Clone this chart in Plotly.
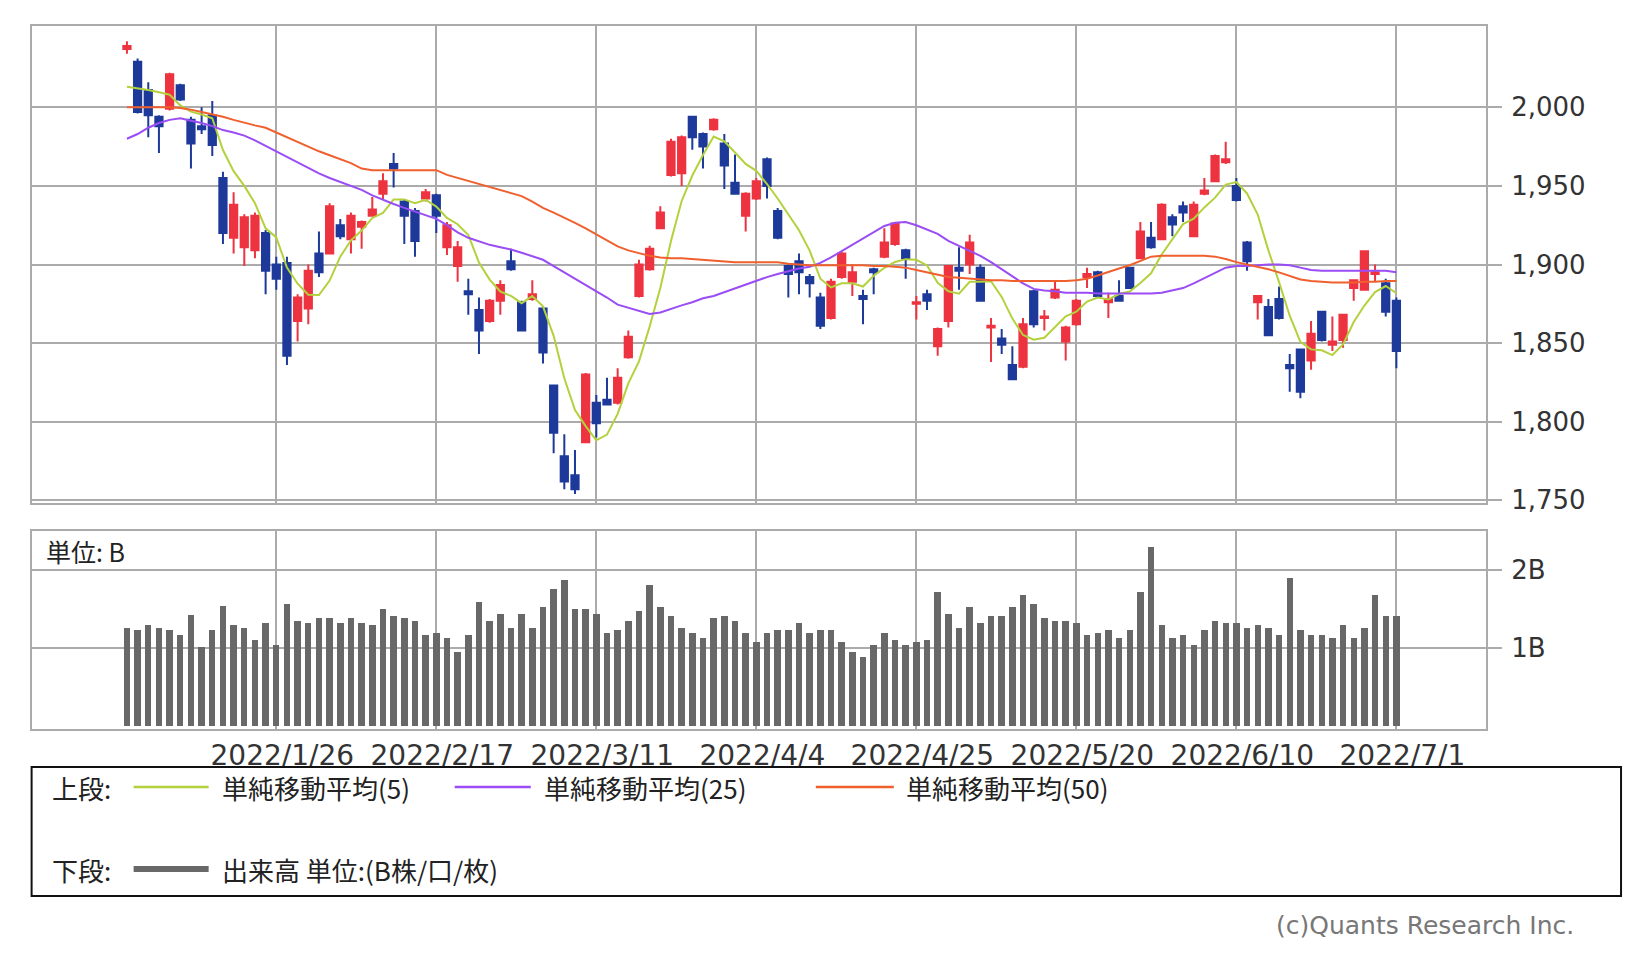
import plotly.graph_objects as go

# trading days shown (Jan 5 - Jul 1, 2022)
jan = [5, 6, 7, 11, 12, 13, 14, 17, 18, 19, 20, 21, 24, 25, 26, 27, 28, 31]
feb = [1, 2, 3, 4, 7, 8, 9, 10, 14, 15, 16, 17, 18, 21, 22, 24, 25, 28]
mar = [1, 2, 3, 4, 7, 8, 9, 10, 11, 14, 15, 16, 17, 18, 22, 23, 24, 25, 28, 29, 30, 31]
apr = [1, 4, 5, 6, 7, 8, 11, 12, 13, 14, 15, 18, 19, 20, 21, 22, 25, 26, 27, 28]
may = [2, 6, 9, 10, 11, 12, 13, 16, 17, 18, 19, 20, 23, 24, 25, 26, 27, 30, 31]
jun = [1, 2, 3, 6, 7, 8, 9, 10, 13, 14, 15, 16, 17, 20, 21, 22, 23, 24, 27, 28, 29, 30]
jul = [1]
dates = []
for m, days in zip(range(1, 8), [jan, feb, mar, apr, may, jun, jul]):
    dates += [f"2022/{m}/{d}" for d in days]

tick_dates = ["2022/1/26", "2022/2/17", "2022/3/11", "2022/4/4",
              "2022/4/25", "2022/5/20", "2022/6/10", "2022/7/1"]

open_ = [2037, 2029, 2011, 1994, 1999, 2014, 1992, 1988, 1995, 1955,
         1917, 1911, 1909, 1920, 1900, 1901, 1864, 1872, 1907, 1907,
         1925, 1916, 1924, 1931, 1945, 1964, 1940, 1934, 1942, 1944,
         1911, 1899, 1883, 1871, 1864, 1877, 1902, 1876, 1878, 1872,
         1823, 1778, 1766, 1787, 1812, 1814, 1812, 1841, 1880, 1897,
         1923, 1957, 1958, 1994, 1983, 1986, 1977, 1952, 1931, 1942,
         1967, 1934, 1899, 1902, 1892, 1879, 1866, 1892, 1889, 1880,
         1897, 1905, 1913, 1909, 1875, 1881, 1848, 1864, 1898, 1900,
         1898, 1860, 1853, 1836, 1835, 1883, 1866, 1879, 1851, 1862,
         1892, 1895, 1876, 1880, 1898, 1904, 1917, 1916, 1930, 1937,
         1918, 1945, 1953, 1965, 1950, 1914, 1876, 1873, 1878, 1836,
         1846, 1839, 1870, 1849, 1852, 1885, 1884, 1894, 1888, 1877]
high = [2042, 2031, 2016, 1995, 2022, 2015, 1994, 2000, 2004, 1959,
        1946, 1932, 1933, 1922, 1905, 1905, 1881, 1900, 1921, 1939,
        1929, 1933, 1928, 1943, 1958, 1971, 1941, 1936, 1948, 1945,
        1927, 1915, 1891, 1879, 1878, 1890, 1910, 1877, 1890, 1873,
        1823, 1792, 1782, 1831, 1817, 1828, 1834, 1858, 1903, 1912,
        1937, 1980, 1982, 1994, 1984, 1993, 1983, 1970, 1946, 1955,
        1968, 1936, 1900, 1907, 1894, 1882, 1891, 1908, 1900, 1884,
        1898, 1923, 1927, 1910, 1880, 1884, 1860, 1899, 1911, 1919,
        1900, 1866, 1859, 1848, 1866, 1884, 1871, 1890, 1861, 1878,
        1898, 1896, 1882, 1890, 1898, 1927, 1927, 1939, 1932, 1940,
        1940, 1955, 1970, 1978, 1955, 1915, 1880, 1878, 1886, 1843,
        1846, 1864, 1870, 1867, 1868, 1890, 1908.5, 1900, 1891, 1879]
low = [2034, 1996, 1981, 1971, 1998, 2004, 1961, 1983, 1969, 1913,
       1907, 1899, 1904, 1881, 1884, 1836, 1851, 1862, 1892, 1907,
       1916, 1907, 1910, 1931, 1941, 1949, 1913, 1905, 1940, 1920,
       1906, 1889, 1868, 1843, 1863, 1868, 1896, 1858, 1877, 1837,
       1780, 1757, 1754, 1787, 1790, 1811, 1811, 1840, 1879, 1896,
       1923, 1956, 1950, 1973, 1961, 1985, 1948, 1945, 1921, 1941,
       1942, 1916, 1879, 1881, 1879, 1859, 1865, 1891, 1880, 1862,
       1881, 1904, 1912, 1891, 1865, 1871, 1842, 1860, 1884, 1894,
       1877, 1838, 1843, 1827, 1834, 1860, 1858, 1878, 1839, 1861,
       1885, 1879, 1866, 1877, 1885, 1904, 1910, 1916, 1918, 1927,
       1918, 1944, 1953, 1964, 1940, 1896, 1865, 1855, 1865, 1819,
       1815, 1833, 1851, 1845, 1847, 1877, 1884, 1889, 1867, 1834]
close = [2039, 1997, 1995, 1988, 2021, 2005, 1977, 1986, 1976, 1920,
         1938, 1930, 1931, 1896, 1891, 1842, 1879, 1896, 1895, 1937,
         1918, 1931, 1927, 1935, 1953, 1961, 1931, 1915, 1946, 1931,
         1925, 1911, 1881, 1858, 1877, 1887, 1897, 1858, 1881, 1844,
         1793, 1762, 1757, 1830, 1799, 1811, 1828, 1854, 1900, 1910,
         1933, 1978, 1981, 1981, 1975, 1992, 1963, 1945, 1945, 1953,
         1950, 1917, 1894, 1895, 1888, 1861, 1889, 1907, 1895, 1878,
         1895, 1914, 1926, 1904, 1876, 1877, 1859, 1899, 1896, 1914,
         1877, 1861, 1849, 1827, 1862, 1862, 1867, 1884, 1860, 1877,
         1894, 1880, 1878, 1877, 1885, 1921, 1911, 1938, 1925.5, 1933,
         1938, 1947, 1969, 1967, 1941, 1902, 1880, 1855, 1866, 1834,
         1819, 1856, 1852, 1851, 1868, 1890, 1908.5, 1895, 1870, 1845]

# volume in billions
volume = [1.25, 1.23, 1.29, 1.25, 1.23, 1.16, 1.42, 1.01, 1.23, 1.54,
          1.29, 1.25, 1.10, 1.32, 1.04, 1.56, 1.35, 1.32, 1.38, 1.38,
          1.32, 1.38, 1.32, 1.29, 1.50, 1.41, 1.38, 1.35, 1.16, 1.19,
          1.13, 0.95, 1.16, 1.59, 1.35, 1.44, 1.25, 1.44, 1.25, 1.53,
          1.75, 1.87, 1.50, 1.50, 1.44, 1.19, 1.23, 1.35, 1.47, 1.81,
          1.53, 1.41, 1.25, 1.19, 1.13, 1.38, 1.41, 1.35, 1.19, 1.07,
          1.19, 1.23, 1.23, 1.32, 1.19, 1.23, 1.23, 1.07, 0.95, 0.89,
          1.04, 1.19, 1.10, 1.04, 1.07, 1.10, 1.72, 1.44, 1.25, 1.53,
          1.32, 1.41, 1.41, 1.53, 1.68, 1.56, 1.38, 1.35, 1.35, 1.32,
          1.16, 1.19, 1.23, 1.13, 1.23, 1.72, 2.30, 1.29, 1.13, 1.16,
          1.04, 1.23, 1.35, 1.32, 1.32, 1.25, 1.29, 1.25, 1.16, 1.90,
          1.23, 1.16, 1.16, 1.13, 1.29, 1.13, 1.25, 1.68, 1.41, 1.41]

# moving averages
ma5 = [2013, 2012, 2011, 2009.5, 2008, 2001.2, 1997.2, 1995.4, 1993, 1972.8,
       1959.4, 1950, 1939, 1923, 1917.2, 1898, 1887.8, 1880.8, 1880.6, 1889.8,
       1905, 1915.4, 1921.6, 1929.6, 1932.8, 1941.4, 1941.4, 1939, 1941.2, 1936.8,
       1929.6, 1925.6, 1918.8, 1901.2, 1890.4, 1882.8, 1880, 1875.4, 1880, 1873.4,
       1854.6, 1827.6, 1807.4, 1797.2, 1788.2, 1791.8, 1805, 1824.4, 1838.4, 1860.6,
       1885, 1915, 1940.4, 1956.6, 1969.6, 1981.4, 1978.4, 1971.2, 1964, 1959.6,
       1951.2, 1942, 1931.8, 1921.8, 1908.8, 1891, 1885.4, 1888, 1888, 1886,
       1892.8, 1897.8, 1901.6, 1903.4, 1903, 1899.4, 1888.4, 1883, 1881.4, 1889,
       1889, 1889.4, 1879.4, 1865.6, 1855.2, 1852.2, 1853.4, 1860.4, 1867, 1870,
       1876.4, 1879, 1877.8, 1881.2, 1882.8, 1888.2, 1894.4, 1906.4, 1916.1, 1925.7,
       1929.1, 1936.3, 1942.5, 1950.8, 1952.4, 1945.2, 1931.8, 1909, 1888.8, 1867.4,
       1850.8, 1846, 1845.4, 1842.4, 1849.2, 1863.4, 1873.9, 1882.5, 1886.3, 1881.7]
ma25 = [1980, 1983, 1987, 1990, 1992, 1993, 1991.5, 1990, 1988, 1985.5,
        1984, 1982, 1979, 1975.5, 1971.5, 1968.5, 1965, 1961.5, 1958, 1955,
        1952.5, 1950, 1947.5, 1944, 1941, 1938.5, 1936, 1933.5, 1931.5, 1929,
        1925, 1920.5, 1917, 1914.5, 1912.5, 1911, 1909.5, 1907.5, 1905, 1903,
        1899, 1895, 1891, 1887.5, 1883.5, 1879, 1874.5, 1872.5, 1870.5, 1868.5,
        1869.5, 1872, 1874, 1876, 1878.5, 1880, 1882.5, 1885, 1887.5, 1890,
        1892, 1894, 1896, 1897.5, 1898.5, 1901, 1904.5, 1908.5, 1913, 1917,
        1921, 1924.5, 1926.5, 1927, 1925, 1922.5, 1919.5, 1915, 1912, 1909,
        1905.5, 1901.5, 1897, 1893, 1888, 1884.5, 1883.5, 1883, 1882, 1882,
        1882, 1881.5, 1881.5, 1881.5, 1881.5, 1881.5, 1881.5, 1882, 1883.5, 1885,
        1888, 1891.5, 1895, 1898, 1899, 1899, 1899.5, 1900, 1900, 1899.5,
        1898, 1896.5, 1896, 1896, 1896, 1896, 1896, 1896, 1896, 1895]
ma50 = [2000, 2000, 2000, 2000, 2000, 1999.5, 1998.5, 1997, 1995.5, 1994,
        1992, 1990, 1988.5, 1987, 1984, 1981, 1977.5, 1974.5, 1972, 1969.5,
        1967, 1964.5, 1961, 1960, 1960, 1960, 1960, 1960, 1960, 1960,
        1957, 1955, 1953, 1951, 1949.5, 1947.5, 1945.5, 1943.5, 1940, 1936,
        1933, 1930, 1926.5, 1923, 1919, 1915, 1911.5, 1909, 1907, 1905.5,
        1904.5, 1904, 1904, 1903.5, 1903, 1902.5, 1902, 1901.5, 1901.5, 1901.5,
        1901.5, 1901.5, 1900.5, 1900, 1899.5, 1899.5, 1899.5, 1899.5, 1899.5, 1899.5,
        1899, 1899, 1898.5, 1898, 1896.5, 1895, 1893.5, 1892, 1891.5, 1891,
        1890.5, 1890, 1890, 1889.5, 1889.5, 1889.5, 1889.5, 1889.5, 1889.5, 1890,
        1891, 1893, 1895.5, 1897.5, 1899.5, 1902, 1905, 1905.5, 1905.5, 1905.5,
        1905.5, 1905.5, 1905, 1903.5, 1901.5, 1900, 1898.5, 1897, 1895, 1892.5,
        1890.5, 1889.5, 1889, 1888.5, 1888.5, 1888.5, 1889, 1889, 1889.5, 1889.5]

price_ticks = [1750, 1800, 1850, 1900, 1950, 2000]

RED = "#ee3340"
BLUE = "#1d3a9b"
C_MA5 = "#b3d13c"
C_MA25 = "#9a4cf5"
C_MA50 = "#f0602e"
C_VOL = "#686868"
GRID = "#ababab"

# page body has an 8px margin, so the figure is drawn 8px in from the corner
OFF = 8
W, H = 1641 - 2 * OFF, 961 - 2 * OFF
# plot area in window pixels
PL, PR, PT, PB = 32.4, 1486, 26, 729


def px_x(x):
    return (x - PL) / (PR - PL)


def px_y(y):
    return (PB - y) / (PB - PT)


fig = go.Figure()

fig.add_trace(go.Candlestick(
    x=dates, open=open_, high=high, low=low, close=close,
    increasing=dict(line=dict(color=RED, width=2), fillcolor=RED),
    decreasing=dict(line=dict(color=BLUE, width=2), fillcolor=BLUE),
    whiskerwidth=0, xaxis="x2", yaxis="y", hoverinfo="skip"))

for vals, col in [(ma5, C_MA5), (ma25, C_MA25), (ma50, C_MA50)]:
    fig.add_trace(go.Scatter(x=dates, y=vals, mode="lines",
                             line=dict(color=col, width=2),
                             xaxis="x2", yaxis="y", hoverinfo="skip"))

fig.add_trace(go.Bar(x=dates, y=volume, marker=dict(color=C_VOL, line=dict(width=0)),
                     width=0.6, xaxis="x", yaxis="y2", hoverinfo="skip"))

xrange = [-8.9, 127.4]
ytick_font = dict(family="DejaVu Sans", size=26, color="#333333")
xtick_font = dict(family="DejaVu Sans", size=28, color="#333333")
common_x = dict(type="category", categoryorder="array", categoryarray=dates,
                range=xrange, tickvals=tick_dates, showgrid=True,
                gridcolor=GRID, gridwidth=2, showline=True, linecolor=GRID,
                linewidth=2, mirror=True, ticks="", zeroline=False)
common_y = dict(side="right", showgrid=True, gridcolor=GRID, gridwidth=2,
                showline=True, linecolor=GRID, linewidth=2, mirror=True,
                ticks="outside", ticklen=14, tickcolor=GRID, tickwidth=2,
                ticklabelstandoff=4, zeroline=False, tickfont=ytick_font)

fig.update_layout(
    width=W, height=H, autosize=False,
    margin=dict(l=PL - OFF, r=W + OFF - PR, t=PT - OFF, b=H + OFF - PB),
    paper_bgcolor="white", plot_bgcolor="white",
    showlegend=False, bargap=0, boxgap=0.2, boxgroupgap=0.15,
    xaxis=dict(common_x, domain=[0, 1], anchor="y2", tickfont=xtick_font,
               showticklabels=True, ticklabelshift=6),
    xaxis2=dict(common_x, domain=[0, 1], anchor="y", showticklabels=False,
                rangeslider=dict(visible=False)),
    yaxis=dict(common_y, domain=[px_y(503), 1], range=[1748.3, 2051.7],
               tickvals=price_ticks, tickformat=",d"),
    yaxis2=dict(common_y, domain=[0, px_y(531)], range=[-0.04, 2.5],
                tickvals=[1, 2], ticktext=["1B", "2B"]),
)

# volume unit label
ann = [dict(x=px_x(44), y=px_y(551), text="単位: B",
            font=dict(family="Noto Sans CJK JP", size=25, color="#222222"))]

# legend box contents
row1, row2 = 787, 869
leg_font = dict(family="Noto Sans CJK JP", size=26, color="#222222")
ann += [
    dict(x=px_x(50), y=px_y(row1), text="上段:", font=leg_font),
    dict(x=px_x(220), y=px_y(row1), text="単純移動平均(5)", font=leg_font),
    dict(x=px_x(542), y=px_y(row1), text="単純移動平均(25)", font=leg_font),
    dict(x=px_x(904), y=px_y(row1), text="単純移動平均(50)", font=leg_font),
    dict(x=px_x(50), y=px_y(row2), text="下段:", font=leg_font),
    dict(x=px_x(220), y=px_y(row2), text="出来高 単位:(B株/口/枚)", font=leg_font),
]
for a in ann:
    a.update(xref="paper", yref="paper", xanchor="left", yanchor="middle",
             showarrow=False)
ann.append(dict(x=px_x(1576), y=px_y(925), xref="paper", yref="paper",
                xanchor="right", yanchor="middle", showarrow=False,
                text="(c)Quants Research Inc.",
                font=dict(family="DejaVu Sans", size=25, color="#777777")))

shapes = [dict(type="rect", xref="paper", yref="paper",
               x0=px_x(32), x1=px_x(1621), y0=px_y(767), y1=px_y(896),
               line=dict(color="#111111", width=2))]
for (xa, xb, yy, col, lw) in [(134, 209, row1, C_MA5, 2.5), (455, 531, row1, C_MA25, 2.5),
                              (816, 894, row1, C_MA50, 2.5), (134, 209, row2, C_VOL, 6)]:
    shapes.append(dict(type="line", xref="paper", yref="paper",
                       x0=px_x(xa), x1=px_x(xb), y0=px_y(yy), y1=px_y(yy),
                       line=dict(color=col, width=lw)))

fig.update_layout(annotations=ann, shapes=shapes)

fig.write_html("out.html")
